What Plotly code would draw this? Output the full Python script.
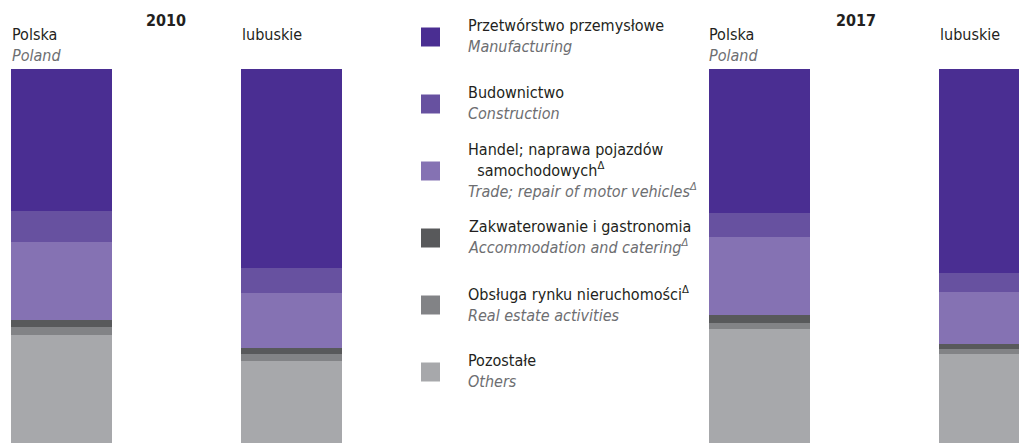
import plotly.graph_objects as go

# ---------------------------------------------------------------------------
# data (shares in %)
GROUPS = ["Polska 2010", "lubuskie 2010", "Polska 2017", "lubuskie 2017"]

SECTORS_PL = [
    "Przetwórstwo przemysłowe",
    "Budownictwo",
    "Handel; naprawa pojazdów<br>  samochodowych<sup>Δ</sup>",
    "Zakwaterowanie i gastronomia",
    "Obsługa rynku nieruchomości<sup>Δ</sup>",
    "Pozostałe",
]
SECTORS_EN = [
    "Manufacturing",
    "Construction",
    "Trade; repair of motor vehicles<sup>Δ</sup>",
    "Accommodation and catering<sup>Δ</sup>",
    "Real estate activities",
    "Others",
]

MANUFACTURING = [38.0, 53.2, 38.5, 54.5]
CONSTRUCTION = [8.3, 6.7, 6.4, 5.1]
TRADE = [20.9, 14.7, 20.9, 13.9]
ACCOMMODATION = [1.9, 1.6, 2.1, 1.3]
REAL_ESTATE = [1.9, 1.9, 1.6, 1.3]
OTHERS = [29.0, 21.9, 30.5, 23.9]

COLORS = ["#4a2e92", "#6751a0", "#8572b3", "#58595b", "#828386", "#a7a8ab"]

# ---------------------------------------------------------------------------
# layout constants, in window pixels (the page body has an 8px margin)
OFF = 8
W, H = 1027 - OFF, 443 - OFF
BAR_POS = [61.5, 291.5, 759, 989.5]
BAR_W = 101
BAR_TOP = 69

FONT = "DejaVu Sans Condensed, Liberation Sans Narrow, sans-serif"
FS = 16
DARK = "#231f20"
GREY = "#6d6e71"


def px_x(px):
    return (px - OFF) / W


def px_y(px):
    return 1 - (px - OFF) / H


fig = go.Figure()

series = [MANUFACTURING, CONSTRUCTION, TRADE, ACCOMMODATION, REAL_ESTATE, OTHERS]
# stack from the bottom up: others first
for i in reversed(range(len(series))):
    fig.add_trace(
        go.Bar(
            x=BAR_POS,
            y=series[i],
            width=BAR_W,
            marker=dict(color=COLORS[i], line=dict(width=0)),
            name=SECTORS_EN[i],
            customdata=GROUPS,
            hovertemplate="%{customdata}: %{y:.1f}%<extra>" + SECTORS_EN[i] + "</extra>",
            showlegend=False,
        )
    )

annotations = []
shapes = []

# column headers
headers = [
    (10, "Polska", "Poland"),
    (240, "lubuskie", None),
    (707, "Polska", "Poland"),
    (938, "lubuskie", None),
]
for x0, pl, en in headers:
    txt = pl if en is None else f"{pl}<br><i><span style='color:{GREY}'>{en}</span></i>"
    annotations.append(
        dict(x=px_x(x0), y=px_y(23), xref="paper", yref="paper", xanchor="left",
             yanchor="top", align="left", showarrow=False, text=txt,
             font=dict(family=FONT, size=FS, color=DARK))
    )

for xc, year in [(166, "2010"), (856, "2017")]:
    annotations.append(
        dict(x=px_x(xc), y=px_y(21), xref="paper", yref="paper", xanchor="center",
             yanchor="middle", showarrow=False, text=f"<b>{year}</b>",
             font=dict(family=FONT, size=16, color=DARK))
    )

# legend in the middle
for i, (pl, en) in enumerate(zip(SECTORS_PL, SECTORS_EN)):
    yc = 37 + i * 67
    shapes.append(
        dict(type="rect", xref="paper", yref="paper",
             x0=px_x(421), x1=px_x(440), y0=px_y(yc - 9.5), y1=px_y(yc + 9.5),
             fillcolor=COLORS[i], line=dict(width=0))
    )
    annotations.append(
        dict(x=px_x(466), y=px_y(yc - 1), xref="paper", yref="paper", xanchor="left",
             yanchor="middle", align="left", showarrow=False,
             text=f"{pl}<br><i><span style='color:{GREY}'>{en}</span></i>",
             font=dict(family=FONT, size=FS, color=DARK))
    )

# x range chosen so that one x unit equals one window pixel
fig.update_layout(
    width=W,
    height=H,
    margin=dict(l=0, r=0, t=0, b=0),
    paper_bgcolor="white",
    plot_bgcolor="white",
    barmode="stack",
    xaxis=dict(range=[OFF, OFF + W], visible=False, fixedrange=True),
    yaxis=dict(range=[0, 100], domain=[0, 1 - (BAR_TOP - OFF) / H],
               visible=False, fixedrange=True),
    annotations=annotations,
    shapes=shapes,
)

fig.write_html("out.html")
